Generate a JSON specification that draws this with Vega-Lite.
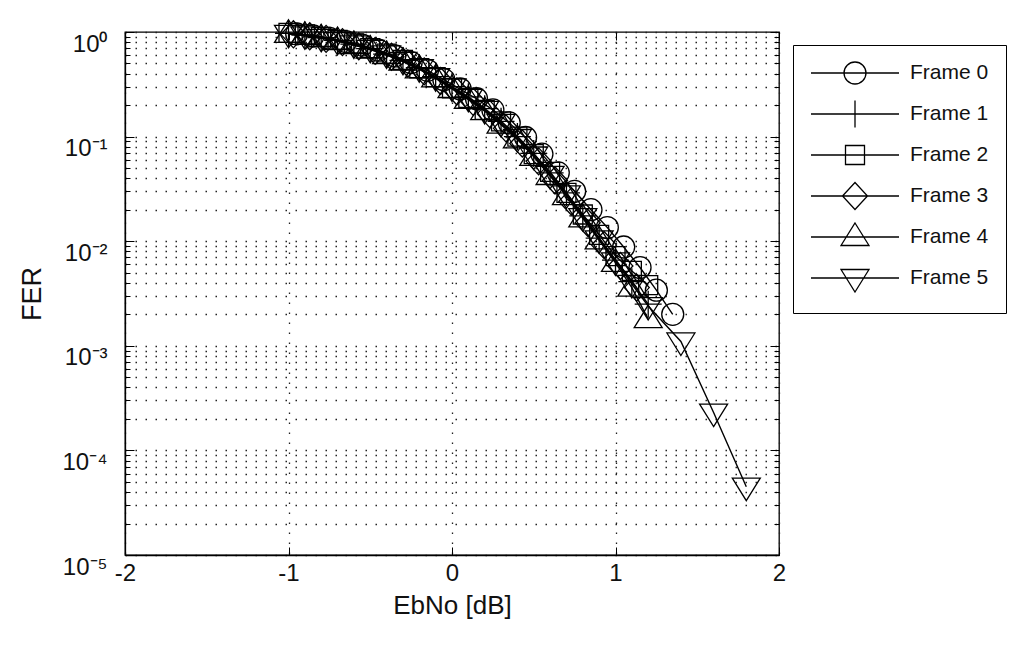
{
  "$schema": "https://vega.github.io/schema/vega-lite/v6.json",
  "width": 654,
  "height": 523,
  "autosize": {"type": "none"},
  "padding": {"left": 125, "top": 32, "right": 247, "bottom": 93},
  "background": "white",
  "config": {
    "view": {"stroke": "black", "strokeWidth": 1.3},
    "font": "Liberation Sans",
    "axis": {"labelFont": "Liberation Sans", "titleFont": "Liberation Sans", "labelColor": "#111", "titleColor": "#111", "domainColor": "black", "tickColor": "black"}
  },
  "data": {"values": [
    {"frame": "Frame 0", "ebno": -0.95, "fer": 0.96},
    {"frame": "Frame 0", "ebno": -0.85, "fer": 0.92},
    {"frame": "Frame 0", "ebno": -0.75, "fer": 0.87},
    {"frame": "Frame 0", "ebno": -0.65, "fer": 0.81},
    {"frame": "Frame 0", "ebno": -0.55, "fer": 0.75},
    {"frame": "Frame 0", "ebno": -0.45, "fer": 0.67},
    {"frame": "Frame 0", "ebno": -0.35, "fer": 0.59},
    {"frame": "Frame 0", "ebno": -0.25, "fer": 0.51},
    {"frame": "Frame 0", "ebno": -0.15, "fer": 0.43},
    {"frame": "Frame 0", "ebno": -0.05, "fer": 0.35},
    {"frame": "Frame 0", "ebno": 0.05, "fer": 0.285},
    {"frame": "Frame 0", "ebno": 0.15, "fer": 0.23},
    {"frame": "Frame 0", "ebno": 0.25, "fer": 0.18},
    {"frame": "Frame 0", "ebno": 0.35, "fer": 0.135},
    {"frame": "Frame 0", "ebno": 0.45, "fer": 0.098},
    {"frame": "Frame 0", "ebno": 0.55, "fer": 0.068},
    {"frame": "Frame 0", "ebno": 0.65, "fer": 0.045},
    {"frame": "Frame 0", "ebno": 0.75, "fer": 0.03},
    {"frame": "Frame 0", "ebno": 0.85, "fer": 0.02},
    {"frame": "Frame 0", "ebno": 0.95, "fer": 0.0135},
    {"frame": "Frame 0", "ebno": 1.05, "fer": 0.0088},
    {"frame": "Frame 0", "ebno": 1.15, "fer": 0.0056},
    {"frame": "Frame 0", "ebno": 1.25, "fer": 0.0034},
    {"frame": "Frame 0", "ebno": 1.35, "fer": 0.002},
    {"frame": "Frame 1", "ebno": -1.0, "fer": 0.97},
    {"frame": "Frame 1", "ebno": -0.9, "fer": 0.935},
    {"frame": "Frame 1", "ebno": -0.8, "fer": 0.885},
    {"frame": "Frame 1", "ebno": -0.7, "fer": 0.83},
    {"frame": "Frame 1", "ebno": -0.6, "fer": 0.765},
    {"frame": "Frame 1", "ebno": -0.5, "fer": 0.695},
    {"frame": "Frame 1", "ebno": -0.4, "fer": 0.615},
    {"frame": "Frame 1", "ebno": -0.3, "fer": 0.535},
    {"frame": "Frame 1", "ebno": -0.2, "fer": 0.455},
    {"frame": "Frame 1", "ebno": -0.1, "fer": 0.375},
    {"frame": "Frame 1", "ebno": 0.0, "fer": 0.3},
    {"frame": "Frame 1", "ebno": 0.1, "fer": 0.24},
    {"frame": "Frame 1", "ebno": 0.2, "fer": 0.185},
    {"frame": "Frame 1", "ebno": 0.3, "fer": 0.14},
    {"frame": "Frame 1", "ebno": 0.4, "fer": 0.1},
    {"frame": "Frame 1", "ebno": 0.5, "fer": 0.069},
    {"frame": "Frame 1", "ebno": 0.6, "fer": 0.045},
    {"frame": "Frame 1", "ebno": 0.7, "fer": 0.029},
    {"frame": "Frame 1", "ebno": 0.8, "fer": 0.0175},
    {"frame": "Frame 1", "ebno": 0.9, "fer": 0.0107},
    {"frame": "Frame 1", "ebno": 1.0, "fer": 0.0066},
    {"frame": "Frame 1", "ebno": 1.1, "fer": 0.0041},
    {"frame": "Frame 1", "ebno": 1.2, "fer": 0.0025},
    {"frame": "Frame 2", "ebno": -1.0, "fer": 0.98},
    {"frame": "Frame 2", "ebno": -0.9, "fer": 0.95},
    {"frame": "Frame 2", "ebno": -0.8, "fer": 0.9},
    {"frame": "Frame 2", "ebno": -0.7, "fer": 0.84},
    {"frame": "Frame 2", "ebno": -0.6, "fer": 0.78},
    {"frame": "Frame 2", "ebno": -0.5, "fer": 0.7},
    {"frame": "Frame 2", "ebno": -0.4, "fer": 0.62},
    {"frame": "Frame 2", "ebno": -0.3, "fer": 0.54},
    {"frame": "Frame 2", "ebno": -0.2, "fer": 0.45},
    {"frame": "Frame 2", "ebno": -0.1, "fer": 0.37},
    {"frame": "Frame 2", "ebno": 0.0, "fer": 0.29},
    {"frame": "Frame 2", "ebno": 0.1, "fer": 0.235},
    {"frame": "Frame 2", "ebno": 0.2, "fer": 0.18},
    {"frame": "Frame 2", "ebno": 0.3, "fer": 0.14},
    {"frame": "Frame 2", "ebno": 0.4, "fer": 0.1},
    {"frame": "Frame 2", "ebno": 0.5, "fer": 0.068},
    {"frame": "Frame 2", "ebno": 0.6, "fer": 0.046},
    {"frame": "Frame 2", "ebno": 0.7, "fer": 0.029},
    {"frame": "Frame 2", "ebno": 0.8, "fer": 0.018},
    {"frame": "Frame 2", "ebno": 0.9, "fer": 0.0115},
    {"frame": "Frame 2", "ebno": 1.0, "fer": 0.0072},
    {"frame": "Frame 2", "ebno": 1.1, "fer": 0.0052},
    {"frame": "Frame 2", "ebno": 1.2, "fer": 0.0038},
    {"frame": "Frame 3", "ebno": -0.97, "fer": 0.95},
    {"frame": "Frame 3", "ebno": -0.87, "fer": 0.91},
    {"frame": "Frame 3", "ebno": -0.77, "fer": 0.86},
    {"frame": "Frame 3", "ebno": -0.67, "fer": 0.8},
    {"frame": "Frame 3", "ebno": -0.57, "fer": 0.73},
    {"frame": "Frame 3", "ebno": -0.47, "fer": 0.66},
    {"frame": "Frame 3", "ebno": -0.37, "fer": 0.58},
    {"frame": "Frame 3", "ebno": -0.27, "fer": 0.5},
    {"frame": "Frame 3", "ebno": -0.17, "fer": 0.42},
    {"frame": "Frame 3", "ebno": -0.07, "fer": 0.34},
    {"frame": "Frame 3", "ebno": 0.03, "fer": 0.27},
    {"frame": "Frame 3", "ebno": 0.13, "fer": 0.215},
    {"frame": "Frame 3", "ebno": 0.23, "fer": 0.165},
    {"frame": "Frame 3", "ebno": 0.33, "fer": 0.12},
    {"frame": "Frame 3", "ebno": 0.43, "fer": 0.086},
    {"frame": "Frame 3", "ebno": 0.53, "fer": 0.058},
    {"frame": "Frame 3", "ebno": 0.63, "fer": 0.038},
    {"frame": "Frame 3", "ebno": 0.73, "fer": 0.024},
    {"frame": "Frame 3", "ebno": 0.83, "fer": 0.015},
    {"frame": "Frame 3", "ebno": 0.93, "fer": 0.0092},
    {"frame": "Frame 3", "ebno": 1.03, "fer": 0.0058},
    {"frame": "Frame 3", "ebno": 1.13, "fer": 0.0036},
    {"frame": "Frame 4", "ebno": -1.0, "fer": 0.96},
    {"frame": "Frame 4", "ebno": -0.9, "fer": 0.92},
    {"frame": "Frame 4", "ebno": -0.8, "fer": 0.87},
    {"frame": "Frame 4", "ebno": -0.7, "fer": 0.82},
    {"frame": "Frame 4", "ebno": -0.6, "fer": 0.75},
    {"frame": "Frame 4", "ebno": -0.5, "fer": 0.68},
    {"frame": "Frame 4", "ebno": -0.4, "fer": 0.6},
    {"frame": "Frame 4", "ebno": -0.3, "fer": 0.52},
    {"frame": "Frame 4", "ebno": -0.2, "fer": 0.44},
    {"frame": "Frame 4", "ebno": -0.1, "fer": 0.36},
    {"frame": "Frame 4", "ebno": 0.0, "fer": 0.285},
    {"frame": "Frame 4", "ebno": 0.1, "fer": 0.225},
    {"frame": "Frame 4", "ebno": 0.2, "fer": 0.175},
    {"frame": "Frame 4", "ebno": 0.3, "fer": 0.13},
    {"frame": "Frame 4", "ebno": 0.4, "fer": 0.094},
    {"frame": "Frame 4", "ebno": 0.5, "fer": 0.064},
    {"frame": "Frame 4", "ebno": 0.6, "fer": 0.042},
    {"frame": "Frame 4", "ebno": 0.7, "fer": 0.027},
    {"frame": "Frame 4", "ebno": 0.8, "fer": 0.0165},
    {"frame": "Frame 4", "ebno": 0.9, "fer": 0.0102},
    {"frame": "Frame 4", "ebno": 1.0, "fer": 0.0062},
    {"frame": "Frame 4", "ebno": 1.1, "fer": 0.0036},
    {"frame": "Frame 4", "ebno": 1.2, "fer": 0.0018},
    {"frame": "Frame 5", "ebno": -1.0, "fer": 0.96},
    {"frame": "Frame 5", "ebno": -0.9, "fer": 0.93},
    {"frame": "Frame 5", "ebno": -0.8, "fer": 0.88},
    {"frame": "Frame 5", "ebno": -0.7, "fer": 0.82},
    {"frame": "Frame 5", "ebno": -0.6, "fer": 0.76},
    {"frame": "Frame 5", "ebno": -0.5, "fer": 0.69},
    {"frame": "Frame 5", "ebno": -0.4, "fer": 0.61},
    {"frame": "Frame 5", "ebno": -0.3, "fer": 0.53},
    {"frame": "Frame 5", "ebno": -0.2, "fer": 0.45},
    {"frame": "Frame 5", "ebno": -0.1, "fer": 0.37},
    {"frame": "Frame 5", "ebno": 0.0, "fer": 0.295},
    {"frame": "Frame 5", "ebno": 0.1, "fer": 0.235},
    {"frame": "Frame 5", "ebno": 0.2, "fer": 0.18},
    {"frame": "Frame 5", "ebno": 0.3, "fer": 0.135},
    {"frame": "Frame 5", "ebno": 0.4, "fer": 0.097},
    {"frame": "Frame 5", "ebno": 0.5, "fer": 0.066},
    {"frame": "Frame 5", "ebno": 0.6, "fer": 0.043},
    {"frame": "Frame 5", "ebno": 0.7, "fer": 0.028},
    {"frame": "Frame 5", "ebno": 0.8, "fer": 0.017},
    {"frame": "Frame 5", "ebno": 0.9, "fer": 0.0104},
    {"frame": "Frame 5", "ebno": 1.0, "fer": 0.0064},
    {"frame": "Frame 5", "ebno": 1.1, "fer": 0.0039},
    {"frame": "Frame 5", "ebno": 1.2, "fer": 0.0024},
    {"frame": "Frame 5", "ebno": 1.4, "fer": 0.0011},
    {"frame": "Frame 5", "ebno": 1.6, "fer": 0.00023},
    {"frame": "Frame 5", "ebno": 1.8, "fer": 0.000045}
  ]},
  "layer": [
    {
      "mark": {"type": "line", "color": "black", "strokeWidth": 1.4},
      "encoding": {
        "x": {"field": "ebno", "type": "quantitative", "scale": {"domain": [-2, 2], "nice": false, "zero": false},
          "axis": {"orient": "bottom", "values": [-2, -1, 0, 1, 2], "labelExpr": "'' + datum.value", "grid": true, "gridDash": [1.5, 8.5], "gridColor": "#222", "gridWidth": 1.3, "tickSize": -8, "tickWidth": 1, "domainWidth": 1.3, "labelFontSize": 24, "labelPadding": 14, "labelFlush": false, "labelOverlap": false, "title": "EbNo [dB]", "titleFontSize": 26, "titleFontWeight": "normal", "titlePadding": 7}},
        "y": {"field": "fer", "type": "quantitative", "scale": {"type": "log", "domain": [0.00001, 1], "nice": false},
          "axis": {"orient": "left", "values": [0.00001, 0.00002, 0.00003, 0.00004, 0.00005, 0.00006, 0.00007, 0.00008, 0.00009, 0.0001, 0.0002, 0.0003, 0.0004, 0.0005, 0.0006, 0.0007, 0.0008, 0.0009, 0.001, 0.002, 0.003, 0.004, 0.005, 0.006, 0.007, 0.008, 0.009, 0.01, 0.02, 0.03, 0.04, 0.05, 0.06, 0.07, 0.08, 0.09, 0.1, 0.2, 0.3, 0.4, 0.5, 0.6, 0.7, 0.8, 0.9, 1],
            "labelExpr": "datum.value == 1 ? '10⁰' : datum.value == 0.1 ? '10⁻¹' : datum.value == 0.01 ? '10⁻²' : datum.value == 0.001 ? '10⁻³' : datum.value == 0.0001 ? '10⁻⁴' : datum.value == 0.00001 ? '10⁻⁵' : ''",
            "grid": true, "gridDash": [1.5, 8.5], "gridColor": "#222", "gridWidth": 1.3,
            "tickSize": {"condition": {"test": "datum.value == 1 || datum.value == 0.1 || datum.value == 0.01 || datum.value == 0.001 || datum.value == 0.0001 || datum.value == 0.00001", "value": -9}, "value": -5},
            "tickWidth": 1, "domainWidth": 1.3, "labelFontSize": 24, "labelPadding": 27, "labelOffset": 12, "labelFlush": false, "labelOverlap": false, "labelBound": false,
            "title": "FER", "titleFontSize": 27, "titleFontWeight": "normal", "titlePadding": 15}},
        "detail": {"field": "frame", "type": "nominal"}
      }
    },
    {
      "mark": {"type": "point", "filled": false, "stroke": "black", "strokeWidth": 1.3, "opacity": 1, "size": 400},
      "encoding": {
        "x": {"field": "ebno", "type": "quantitative", "axis": null},
        "y": {"field": "fer", "type": "quantitative", "axis": null},
        "shape": {"field": "frame", "type": "nominal", "legend": null,
          "scale": {"domain": ["Frame 0", "Frame 1", "Frame 2", "Frame 3", "Frame 4", "Frame 5"],
            "range": [
              "M-1.1,0A1.1,1.1,0,1,1,1.1,0A1.1,1.1,0,1,1,-1.1,0Z",
              "M-1.35,0L1.35,0M0,-1.35L0,1.35",
              "M-0.95,-0.95L0.95,-0.95L0.95,0.95L-0.95,0.95Z",
              "M-1.25,0L0,-1.35L1.25,0L0,1.35Z",
              "M0,-1.4L1.4,0.85L-1.4,0.85Z",
              "M0,1.4L1.4,-0.85L-1.4,-0.85Z"
            ]}}
      }
    },
    {
      "transform": [{"filter": "datum.ebno > 100"}],
      "mark": {"type": "point", "filled": false, "stroke": "black", "strokeWidth": 1.3, "opacity": 1, "size": 400},
      "encoding": {
        "x": {"field": "ebno", "type": "quantitative", "axis": null},
        "y": {"field": "fer", "type": "quantitative", "axis": null},
        "shape": {"field": "frame", "type": "nominal",
          "scale": {"domain": ["Frame 0", "Frame 1", "Frame 2", "Frame 3", "Frame 4", "Frame 5"],
            "range": [
              "M0,-1.45L0,-1.45M0,1.45L0,1.45M-4.4,0L4.4,0M-1.1,0A1.1,1.1,0,1,1,1.1,0A1.1,1.1,0,1,1,-1.1,0Z",
              "M0,-1.45L0,-1.45M0,1.45L0,1.45M-4.4,0L4.4,0M0,-1.35L0,1.35",
              "M0,-1.45L0,-1.45M0,1.45L0,1.45M-4.4,0L4.4,0M-0.95,-0.95L0.95,-0.95L0.95,0.95L-0.95,0.95Z",
              "M0,-1.45L0,-1.45M0,1.45L0,1.45M-4.4,0L4.4,0M-1.25,0L0,-1.35L1.25,0L0,1.35Z",
              "M0,-1.45L0,-1.45M0,1.45L0,1.45M-4.4,0L4.4,0M0,-1.4L1.4,0.85L-1.4,0.85Z",
              "M0,-1.45L0,-1.45M0,1.45L0,1.45M-4.4,0L4.4,0M0,1.4L1.4,-0.85L-1.4,-0.85Z"
            ]},
          "legend": {"orient": "none", "legendX": 668, "legendY": 13, "title": null, "strokeColor": "black", "fillColor": "white", "padding": 17,
            "labelFontSize": 21, "labelFont": "Liberation Sans", "labelColor": "#111", "labelLimit": 300,
            "labelExpr": "datum.label + '\u00a0\u00a0\u00a0\u00a0'",
            "symbolSize": 400, "symbolStrokeWidth": 1.3, "symbolStrokeColor": "black", "symbolFillColor": "transparent", "symbolOpacity": 1,
            "symbolOffset": 34, "labelOffset": 44, "rowPadding": 5}}
      }
    },
    {
      "mark": {"type": "point", "opacity": 0},
      "encoding": {
        "x": {"field": "ebno", "type": "quantitative", "axis": {"orient": "top", "values": [-2, -1, 0, 1, 2], "labels": false, "grid": false, "domain": false, "tickSize": -8, "tickWidth": 1, "title": null}},
        "y": {"field": "fer", "type": "quantitative", "axis": {"orient": "right", "values": [0.00001, 0.00002, 0.00003, 0.00004, 0.00005, 0.00006, 0.00007, 0.00008, 0.00009, 0.0001, 0.0002, 0.0003, 0.0004, 0.0005, 0.0006, 0.0007, 0.0008, 0.0009, 0.001, 0.002, 0.003, 0.004, 0.005, 0.006, 0.007, 0.008, 0.009, 0.01, 0.02, 0.03, 0.04, 0.05, 0.06, 0.07, 0.08, 0.09, 0.1, 0.2, 0.3, 0.4, 0.5, 0.6, 0.7, 0.8, 0.9, 1], "labels": false, "grid": false, "domain": false,
          "tickSize": {"condition": {"test": "datum.value == 1 || datum.value == 0.1 || datum.value == 0.01 || datum.value == 0.001 || datum.value == 0.0001 || datum.value == 0.00001", "value": -9}, "value": -5},
          "tickWidth": 1, "title": null}}
      }
    }
  ],
  "resolve": {"scale": {"shape": "independent"}, "axis": {"x": "independent", "y": "independent"}}
}
